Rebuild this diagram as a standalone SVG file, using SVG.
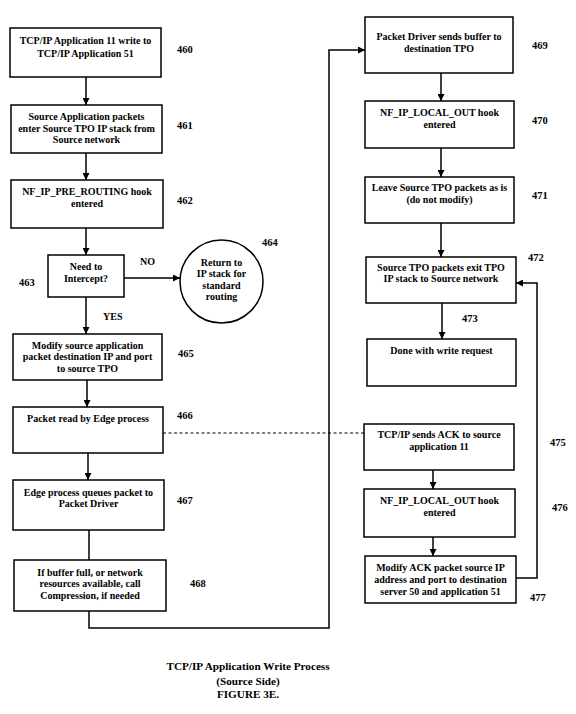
<svg xmlns="http://www.w3.org/2000/svg" width="576" height="714" viewBox="0 0 576 714">
<defs>
<marker id="ah" viewBox="0 0 10 10" refX="10" refY="5" markerUnits="userSpaceOnUse" markerWidth="7" markerHeight="7" orient="auto">
<path d="M0,0 L10,5 L0,10 z" fill="#000"/>
</marker>
<style>
rect, circle { fill: #fff; stroke: #000; stroke-width: 1.5; }
text { font-family: "Liberation Serif", "Times New Roman", serif; font-weight: bold; font-size: 10px; fill: #000; }
.c { text-anchor: middle; }
.lbl { font-size: 10.5px; }
.cap { font-size: 11.2px; text-anchor: middle; }
.ln { fill: none; stroke: #000; stroke-width: 1.5; }
.ar { marker-end: url(#ah); }
.dash { fill: none; stroke: #000; stroke-width: 1.2; stroke-dasharray: 3 2.5; }
</style>
</defs>
<rect x="0" y="0" width="576" height="714" style="stroke:none;fill:#fff"/>

<g id="connectors">
<path class="ln ar" d="M86,77 V105"/>
<path class="ln ar" d="M86,153 V180"/>
<path class="ln ar" d="M86,228 V255"/>
<path class="ln ar" d="M124,278 H180"/>
<path class="ln ar" d="M86,297 V334"/>
<path class="ln ar" d="M87,380 V407"/>
<path class="ln ar" d="M88,453 V480"/>
<path class="ln" d="M89,530 V560"/>
<path class="ln ar" d="M89,611 V628 H329 V50 H365"/>
<path class="dash" d="M163,433 H364"/>
<path class="ln ar" d="M441,73 V101"/>
<path class="ln ar" d="M441,148 V177"/>
<path class="ln ar" d="M441,223 V257"/>
<path class="ln ar" d="M442,303 V339"/>
<path class="ln ar" d="M433,470 V489"/>
<path class="ln ar" d="M433,537 V556"/>
<path class="ln ar" d="M516,578 H537 V283 H516"/>
</g>

<g id="n460">
<rect x="10" y="28" width="151" height="49"/>
<text class="c" x="85.5" y="44">TCP/IP Application 11 write to</text>
<text class="c" x="85.5" y="56.5">TCP/IP Application 51</text>
<text class="lbl" x="177" y="53">460</text>
</g>
<g id="n461">
<rect x="11" y="105" width="151" height="48"/>
<text class="c" x="86.5" y="120">Source Application packets</text>
<text class="c" x="86.5" y="131.5">enter Source TPO IP stack from</text>
<text class="c" x="86.5" y="143">Source network</text>
<text class="lbl" x="177" y="129">461</text>
</g>
<g id="n462">
<rect x="11" y="180" width="152" height="48"/>
<text class="c" x="87" y="195">NF_IP_PRE_ROUTING hook</text>
<text class="c" x="87" y="207">entered</text>
<text class="lbl" x="177" y="204">462</text>
</g>
<g id="n463">
<rect x="48" y="255" width="76" height="42"/>
<text class="c" x="86" y="269.5">Need to</text>
<text class="c" x="86" y="281.5">Intercept?</text>
<text class="lbl" x="19" y="286">463</text>
<text x="140" y="265">NO</text>
<text x="103" y="320">YES</text>
</g>
<g id="n464">
<circle cx="221.5" cy="281.5" r="41.5"/>
<text class="c" x="221.5" y="265.5">Return to</text>
<text class="c" x="221.5" y="277">IP stack for</text>
<text class="c" x="221.5" y="288.5">standard</text>
<text class="c" x="221.5" y="300">routing</text>
<text class="lbl" x="262" y="246">464</text>
</g>
<g id="n465">
<rect x="13" y="334" width="149" height="46"/>
<text class="c" x="87.5" y="348.5">Modify source application</text>
<text class="c" x="87.5" y="360">packet destination IP and port</text>
<text class="c" x="87.5" y="371.5">to source TPO</text>
<text class="lbl" x="178" y="357">465</text>
</g>
<g id="n466">
<rect x="13" y="407" width="150" height="46"/>
<text class="c" x="88" y="421.5">Packet read by Edge process</text>
<text class="lbl" x="177" y="419">466</text>
</g>
<g id="n467">
<rect x="13" y="480" width="151" height="50"/>
<text class="c" x="88.5" y="495.5">Edge process queues packet to</text>
<text class="c" x="88.5" y="507">Packet Driver</text>
<text class="lbl" x="177" y="504">467</text>
</g>
<g id="n468">
<rect x="14" y="560" width="152" height="51"/>
<text class="c" x="90" y="575.5">If buffer full, or network</text>
<text class="c" x="90" y="587">resources available, call</text>
<text class="c" x="90" y="598.5">Compression, if needed</text>
<text class="lbl" x="190" y="587">468</text>
</g>
<g id="n469">
<rect x="365" y="17" width="148" height="56"/>
<text class="c" x="439" y="39.5">Packet Driver sends buffer to</text>
<text class="c" x="439" y="51.5">destination TPO</text>
<text class="lbl" x="532" y="49">469</text>
</g>
<g id="n470">
<rect x="365" y="101" width="149" height="47"/>
<text class="c" x="439.5" y="115.5">NF_IP_LOCAL_OUT hook</text>
<text class="c" x="439.5" y="128">entered</text>
<text class="lbl" x="532" y="124">470</text>
</g>
<g id="n471">
<rect x="365" y="177" width="149" height="46"/>
<text class="c" x="439.5" y="190.5">Leave Source TPO packets as is</text>
<text class="c" x="439.5" y="203">(do not modify)</text>
<text class="lbl" x="532" y="199">471</text>
</g>
<g id="n472">
<rect x="366" y="257" width="150" height="46"/>
<text class="c" x="441" y="270.5">Source TPO packets exit TPO</text>
<text class="c" x="441" y="281.5">IP stack to Source network</text>
<text class="lbl" x="528" y="261">472</text>
<text class="lbl" x="462" y="322">473</text>
</g>
<g id="n473">
<rect x="367" y="339" width="149" height="47"/>
<text class="c" x="441.5" y="353.5">Done with write request</text>
</g>
<g id="n475">
<rect x="364" y="424" width="150" height="46"/>
<text class="c" x="439" y="437.5">TCP/IP sends ACK to source</text>
<text class="c" x="439" y="449.5">application 11</text>
<text class="lbl" x="550" y="446">475</text>
</g>
<g id="n476">
<rect x="364" y="489" width="151" height="48"/>
<text class="c" x="439.5" y="503.5">NF_IP_LOCAL_OUT hook</text>
<text class="c" x="439.5" y="515.5">entered</text>
<text class="lbl" x="552" y="511">476</text>
</g>
<g id="n477">
<rect x="365" y="556" width="151" height="47"/>
<text class="c" x="440.5" y="570.5">Modify ACK packet source IP</text>
<text class="c" x="440.5" y="582.5">address and port to destination</text>
<text class="c" x="440.5" y="594.5">server 50 and application 51</text>
<text class="lbl" x="530" y="601">477</text>
</g>

<g id="caption">
<text class="cap" x="248" y="670">TCP/IP Application Write Process</text>
<text class="cap" x="248" y="685">(Source Side)</text>
<text class="cap" x="248" y="698">FIGURE 3E.</text>
</g>
</svg>
